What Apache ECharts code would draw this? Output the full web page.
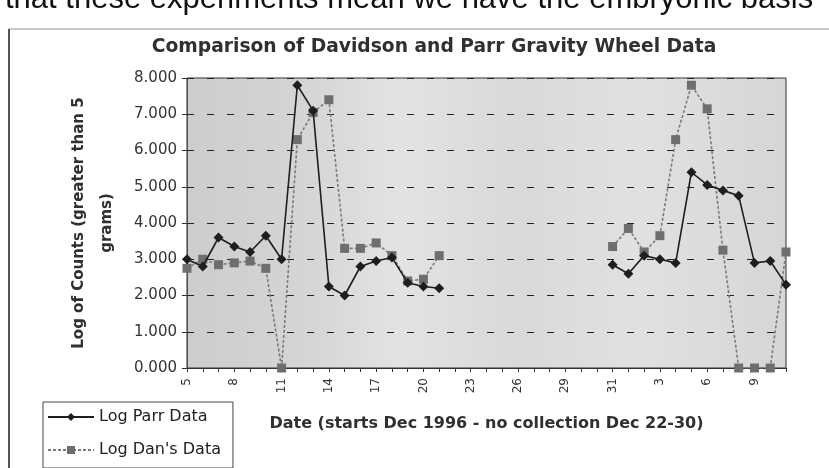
<!DOCTYPE html>
<html>
<head>
<meta charset="utf-8">
<script src="https://cdn.jsdelivr.net/npm/echarts@6/dist/echarts.min.js"></script>
<style>
  html, body { margin: 0; padding: 0; background: #ffffff; }
  #chart { width: 829px; height: 468px; }
</style>
</head>
<body>
<div id="chart"></div>
<script>
// Collection days, December 1996 into January 1997 (labels shown every third day)
const dayLabels = [
  '5', '6', '7', '8', '9', '10', '11', '12', '13', '14',
  '15', '16', '17', '18', '19', '20', '21', '22', '23', '24',
  '25', '26', '27', '28', '29', '30', '30', '31', '1', '2',
  '3', '4', '5', '6', '7', '8', '9', '10', '11'
];

// Log of counts (greater than 5 grams); null = no collection
const parrLog = [
  3.00, 2.80, 3.60, 3.35, 3.20, 3.65, 3.00, 7.80, 7.10, 2.25,
  2.00, 2.80, 2.95, 3.05, 2.35, 2.25, 2.20, null, null, null,
  null, null, null, null, null, null, null, 2.85, 2.60, 3.10,
  3.00, 2.90, 5.40, 5.05, 4.90, 4.75, 2.90, 2.95, 2.30
];

const danLog = [
  2.75, 3.00, 2.85, 2.90, 2.95, 2.75, 0.00, 6.30, 7.05, 7.40,
  3.30, 3.30, 3.45, 3.10, 2.40, 2.45, 3.10, null, null, null,
  null, null, null, null, null, null, null, 3.35, 3.85, 3.20,
  3.65, 6.30, 7.80, 7.15, 3.25, 0.00, 0.00, 0.00, 3.20
];

const yTicks = [0, 1, 2, 3, 4, 5, 6, 7, 8];

const chart = echarts.init(document.getElementById('chart'), null, { renderer: 'canvas' });

// halftone-grey plot fill, a little darker toward the left
const plotFill = new echarts.graphic.LinearGradient(0, 0, 1, 0, [
  { offset: 0.00, color: '#cdcdcd' },
  { offset: 0.20, color: '#d5d5d5' },
  { offset: 0.35, color: '#e3e3e3' },
  { offset: 0.55, color: '#d9d9d9' },
  { offset: 0.75, color: '#e1e1e1' },
  { offset: 1.00, color: '#d6d6d6' }
]);

chart.setOption({
  animation: false,
  backgroundColor: '#ffffff',
  title: {
    text: 'Comparison of Davidson and Parr Gravity Wheel Data',
    left: 429,
    top: 33,
    textAlign: 'center',
    textStyle: {
      fontFamily: 'DejaVu Sans',
      fontWeight: 'bold',
      fontSize: 18.7,
      color: '#303030'
    }
  },
  grid: {
    left: 187,
    right: 43,
    top: 78,
    bottom: 100,
    show: true,
    backgroundColor: plotFill,
    borderColor: '#333333',
    borderWidth: 1
  },
  legend: {
    orient: 'vertical',
    left: 43,
    top: 402,
    width: 187,
    padding: [7, 12, 10, 4],
    itemGap: 17,
    itemWidth: 46,
    itemHeight: 10,
    borderColor: '#444444',
    borderWidth: 1,
    backgroundColor: '#ffffff',
    textStyle: {
      fontFamily: 'DejaVu Sans',
      fontSize: 16,
      color: '#222222'
    },
    data: ['Log Parr Data', "Log Dan's Data"]
  },
  xAxis: {
    type: 'category',
    data: dayLabels,
    boundaryGap: false,
    name: 'Date (starts Dec 1996 - no collection Dec 22-30)',
    nameLocation: 'middle',
    nameGap: 48,
    nameTextStyle: {
      fontFamily: 'DejaVu Sans',
      fontWeight: 'bold',
      fontSize: 16,
      color: '#303030'
    },
    axisLine: { show: true, lineStyle: { color: '#333333', width: 1 } },
    axisTick: {
      show: true,
      interval: 0,
      inside: false,
      length: 4,
      lineStyle: { color: '#333333' }
    },
    axisLabel: {
      interval: 2,
      rotate: 90,
      margin: 10,
      fontFamily: 'DejaVu Sans',
      fontSize: 12,
      color: '#333333'
    },
    splitLine: { show: false }
  },
  yAxis: {
    type: 'value',
    min: yTicks[0],
    max: yTicks[yTicks.length - 1],
    interval: 1,
    name: 'Log of Counts (greater than 5\ngrams)',
    nameLocation: 'middle',
    nameRotate: 90,
    nameGap: 66,
    nameTextStyle: {
      fontFamily: 'DejaVu Sans',
      fontWeight: 'bold',
      fontSize: 15,
      lineHeight: 28,
      color: '#303030'
    },
    axisLine: { show: true, lineStyle: { color: '#444444', width: 1, type: 'dotted' } },
    axisTick: { show: true, length: 5, lineStyle: { color: '#333333' } },
    axisLabel: {
      margin: 10,
      fontFamily: 'DejaVu Sans',
      fontSize: 15,
      color: '#333333',
      formatter: v => v.toFixed(3)
    },
    splitLine: {
      show: true,
      lineStyle: { color: '#222222', width: 1.2, type: [7, 13] }
    }
  },
  graphic: [
    {
      type: 'text',
      left: 5,
      top: -16,
      style: {
        text: 'that these experiments mean we have the embryonic basis',
        fontFamily: 'Liberation Sans',
        fontSize: 31,
        fill: '#111111'
      }
    },
    {
      type: 'line',
      shape: { x1: 9, y1: 29, x2: 829, y2: 29 },
      style: { stroke: '#c8c8c8', lineWidth: 2 }
    },
    {
      type: 'line',
      shape: { x1: 9, y1: 29, x2: 9, y2: 468 },
      style: { stroke: '#555555', lineWidth: 2 }
    }
  ],
  series: [
    {
      name: 'Log Parr Data',
      type: 'line',
      data: parrLog,
      connectNulls: false,
      symbol: 'diamond',
      symbolSize: 10,
      itemStyle: { color: '#1e1e1e' },
      lineStyle: { color: '#1e1e1e', width: 1.6 },
      z: 3
    },
    {
      name: "Log Dan's Data",
      type: 'line',
      data: danLog,
      connectNulls: false,
      symbol: 'rect',
      symbolSize: 9,
      itemStyle: { color: '#6e6e6e' },
      lineStyle: { color: '#7a7a7a', width: 1.6, type: [3, 2] },
      z: 2
    }
  ]
});
</script>
</body>
</html>
